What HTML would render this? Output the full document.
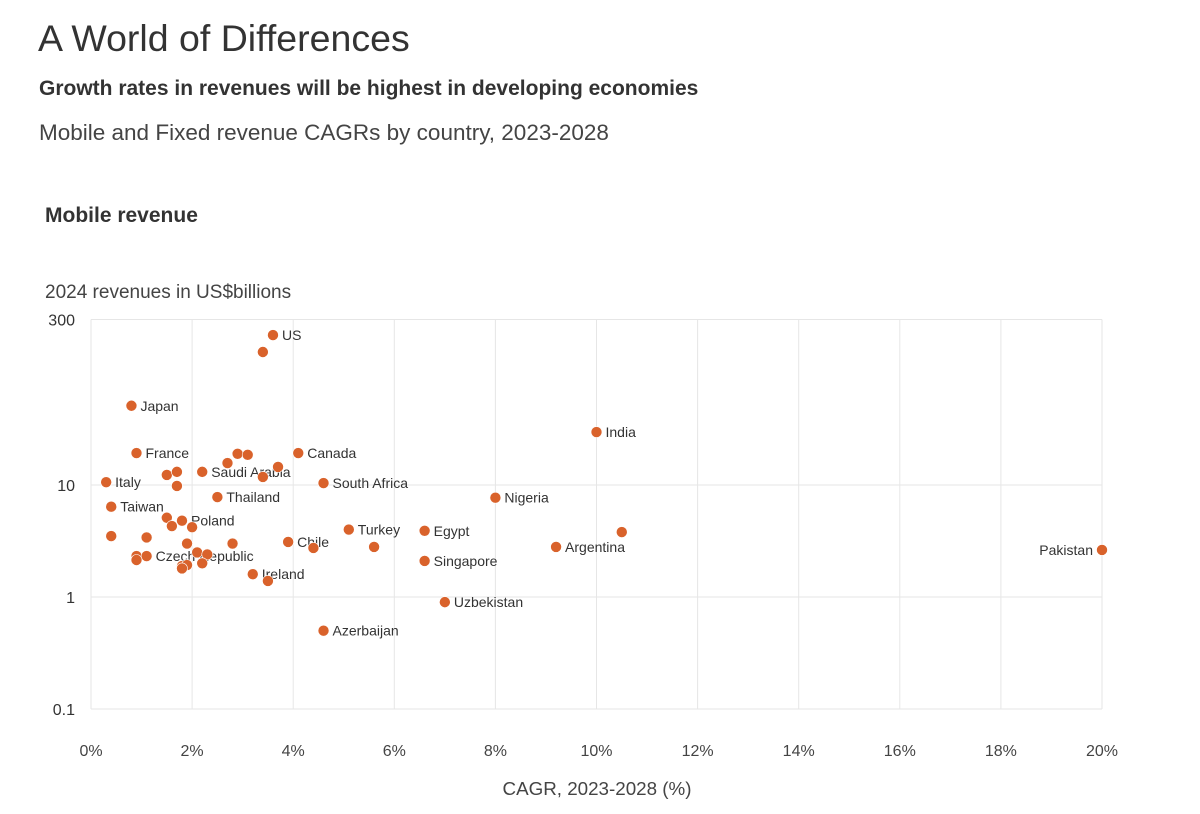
<!DOCTYPE html>
<html><head><meta charset="utf-8"><style>
body{margin:0;background:#fff;font-family:"Liberation Sans",sans-serif;color:#333}
#wrap{position:relative;width:1200px;height:814px;overflow:hidden}
.t{position:absolute;white-space:nowrap}
</style></head><body>
<div id="wrap">
<div class="t" style="left:38px;top:17px;font-size:37.5px;color:#333">A World of Differences</div>
<div class="t" style="left:39px;top:77px;font-size:21px;font-weight:bold;color:#333">Growth rates in revenues will be highest in developing economies</div>
<div class="t" style="left:39px;top:120px;font-size:22.5px;color:#444">Mobile and Fixed revenue CAGRs by country, 2023-2028</div>
<div class="t" style="left:45px;top:204px;font-size:21px;font-weight:bold;color:#333">Mobile revenue</div>
<div class="t" style="left:45px;top:282px;font-size:19px;color:#444">2024 revenues in US$billions</div>
<svg id="chart" width="1200" height="814" style="position:absolute;left:0;top:0"></svg>
</div>
<script>
const names=["US","","Japan","India","France","","","Canada","","","","Saudi Arabia","","","Italy","","South Africa","Thailand","Nigeria","Taiwan","","","Poland","","Turkey","Egypt","","","","","","Chile","","","Argentina","Pakistan","","Czech Republic","","","","Singapore","","","","","Ireland","","Uzbekistan","Azerbaijan"];
const cagr=[3.6,3.4,0.8,10.0,0.9,2.9,3.1,4.1,2.7,1.5,1.7,2.2,3.7,3.4,0.3,1.7,4.6,2.5,8.0,0.4,1.5,1.6,1.8,2.0,5.1,6.6,10.5,0.4,1.1,1.9,2.8,3.9,4.4,5.6,9.2,20,0.9,1.1,2.1,2.3,0.9,6.6,1.8,1.9,1.8,2.2,3.2,3.5,7.0,4.6];
const revenue=[218,154,51,29.7,19.3,19.0,18.6,19.3,15.7,12.3,13.1,13.1,14.5,11.8,10.6,9.8,10.4,7.8,7.7,6.4,5.1,4.3,4.8,4.2,4.0,3.9,3.8,3.5,3.4,3.0,3.0,3.1,2.74,2.8,2.8,2.63,2.32,2.32,2.5,2.4,2.14,2.1,1.89,1.93,1.8,2.0,1.6,1.39,0.90,0.50];
const xTicks=[0,2,4,6,8,10,12,14,16,18,20];
const yTicks=[0.1,1,10,300];
const NS="http://www.w3.org/2000/svg";
const svg=document.getElementById('chart');
const X0=91,X1=1102,YB=709,DEC=112;
function xs(v){return X0+(v/20)*(X1-X0);}
function ys(v){return YB-(Math.log10(v)+1)*DEC;}
function mk(tag,a){const e=document.createElementNS(NS,tag);for(const k in a)e.setAttribute(k,a[k]);svg.appendChild(e);return e;}
xTicks.forEach(t=>{
 const l=mk('line',{x1:xs(t),x2:xs(t),y1:ys(300),y2:YB,stroke:'#e6e6e6'});
 
 
 const tx=mk('text',{x:xs(t),y:756,'text-anchor':'middle','font-size':16,fill:'#444','font-family':'Liberation Sans'});
 tx.textContent=t+'%';
 
 
});
yTicks.forEach(t=>{
 const l=mk('line',{x1:X0,x2:X1,y1:ys(t),y2:ys(t),stroke:'#e6e6e6'});
 
 
 const tx=mk('text',{x:75,y:ys(t)+6,'text-anchor':'end','font-size':16,fill:'#333','font-family':'Liberation Sans'});
 tx.textContent=t;
 
 
});
const xt=mk('text',{x:597,y:795,'text-anchor':'middle','font-size':18.8,fill:'#444','font-family':'Liberation Sans'});
xt.textContent='CAGR, 2023-2028 (%)';


cagr.forEach((c,i)=>{
 const cx=xs(c),cy=ys(revenue[i]);
 const d=mk('circle',{cx:cx,cy:cy,r:5.5,fill:'#d9622b',stroke:'#fff','stroke-width':0.6});
 
 
 if(names[i]){
  const left=c>=19;
  const tx=mk('text',{x:left?cx-9:cx+9,y:cy+5,'text-anchor':left?'end':'start','font-size':14,fill:'#333','font-family':'Liberation Sans'});
  tx.textContent=names[i];
  
  
 }
});
</script>
</body></html>
